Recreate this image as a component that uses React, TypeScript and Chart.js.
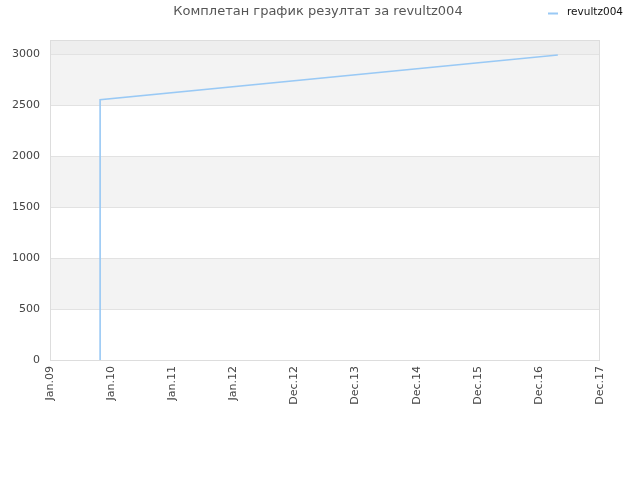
import React, { useEffect, useRef } from 'react';
import { Chart, registerables, ChartConfiguration, Plugin } from 'chart.js';

Chart.register(...registerables);

const title = 'Комплетан график резултат за revultz004';
const seriesName = 'revultz004';
const xTickLabels = ['Jan.09', 'Jan.10', 'Jan.11', 'Jan.12', 'Dec.12', 'Dec.13', 'Dec.14', 'Dec.15', 'Dec.16', 'Dec.17'];
const yTicks = [0, 500, 1000, 1500, 2000, 2500, 3000];
// x position in tick units (0 = Jan.09), y = result
const pointX = [0.82, 0.82, 8.31];
const pointY = [0, 2555, 2993];

const FONT = '"DejaVu Sans", Verdana, sans-serif';

// alternating background bands + title and legend drawn by hand
const decorPlugin: Plugin<'line'> = {
  id: 'decor',
  beforeDraw(chart) {
    const { ctx, chartArea, scales } = chart;
    const y = scales.y;
    const bands = [...yTicks, y.max];
    ctx.save();
    for (let i = 0; i < bands.length - 1; i++) {
      const top = y.getPixelForValue(bands[i + 1]);
      const bottom = y.getPixelForValue(bands[i]);
      if (i === 6) ctx.fillStyle = '#eeeeee';
      else if (i % 2 === 1) ctx.fillStyle = '#f3f3f3';
      else continue;
      ctx.fillRect(chartArea.left, top, chartArea.right - chartArea.left, bottom - top);
    }
    ctx.restore();
  },
  afterDraw(chart) {
    const { ctx, chartArea } = chart;
    ctx.save();
    ctx.strokeStyle = '#dddddd';
    ctx.lineWidth = 1;
    ctx.strokeRect(chartArea.left + 0.5, chartArea.top + 0.5, chartArea.right - chartArea.left - 1, chartArea.bottom - chartArea.top);

    ctx.fillStyle = '#555555';
    ctx.font = `13px ${FONT}`;
    ctx.textAlign = 'center';
    ctx.textBaseline = 'middle';
    ctx.fillText(title, 318, 12);

    ctx.strokeStyle = '#99c9f5';
    ctx.lineWidth = 2;
    ctx.beginPath();
    ctx.moveTo(548, 13.5);
    ctx.lineTo(558, 13.5);
    ctx.stroke();
    ctx.fillStyle = '#111111';
    ctx.font = `10.5px ${FONT}`;
    ctx.textAlign = 'left';
    ctx.fillText(seriesName, 567, 12);
    ctx.restore();
  },
};

const App: React.FC = () => {
  const chartRef = useRef<HTMLCanvasElement>(null);
  const chartInstance = useRef<Chart | null>(null);

  useEffect(() => {
    if (!chartRef.current) return;
    const data = pointX.map((x, i) => ({ x, y: pointY[i] }));

    const config: ChartConfiguration<'line'> = {
      type: 'line',
      data: {
        datasets: [{
          label: seriesName,
          data,
          borderColor: '#99c9f5',
          borderWidth: 1.6,
          pointRadius: 0,
          tension: 0,
        }],
      },
      options: {
        responsive: false,
        animation: false,
        layout: { padding: { top: 40, right: 40, left: 0, bottom: 0 } },
        plugins: {
          legend: { display: false },
          title: { display: false },
          tooltip: { enabled: false },
        },
        scales: {
          x: {
            type: 'linear',
            min: 0,
            max: xTickLabels.length - 1,
            afterFit: (scale) => { scale.height = 120; },
            afterBuildTicks: (scale) => {
              scale.ticks = xTickLabels.map((_, i) => ({ value: i }));
            },
            grid: { display: false, drawTicks: false },
            border: { display: false },
            ticks: {
              autoSkip: false,
              maxRotation: 90,
              minRotation: 90,
              padding: 6,
              color: '#444444',
              font: { family: FONT, size: 11 },
              callback: (v) => xTickLabels[Number(v)] ?? '',
            },
          },
          y: {
            min: 0,
            max: 3140,
            afterFit: (scale) => { scale.width = 50; },
            afterBuildTicks: (scale) => {
              scale.ticks = yTicks.map((value) => ({ value }));
            },
            grid: { color: '#e2e2e2', drawTicks: false },
            border: { display: false },
            ticks: {
              padding: 10,
              color: '#444444',
              font: { family: FONT, size: 11 },
              callback: (v) => String(v),
            },
          },
        },
      },
      plugins: [decorPlugin],
    };

    chartInstance.current = new Chart(chartRef.current, config);
    return () => {
      if (chartInstance.current) {
        chartInstance.current.destroy();
        chartInstance.current = null;
      }
    };
  }, []);

  return (
    <div style={{ position: 'absolute', left: 0, top: 0, width: 640, height: 480, background: '#fff' }}>
      <canvas ref={chartRef} width={640} height={480} style={{ width: 640, height: 480 }} />
    </div>
  );
};

export default App;
